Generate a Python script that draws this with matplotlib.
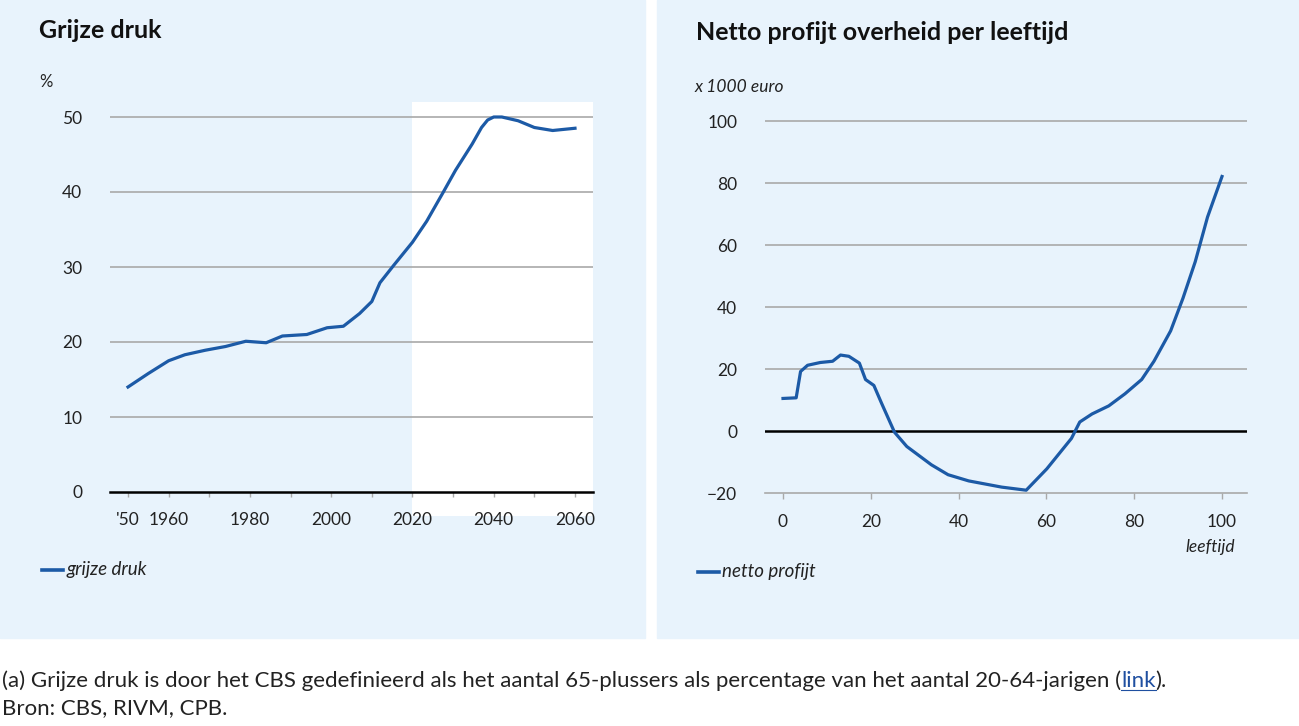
import matplotlib
matplotlib.use("Agg")
import matplotlib.pyplot as plt
from matplotlib.patches import Rectangle

# ---------------- data ----------------
years = [1950, 1955, 1960, 1964, 1969, 1974, 1979, 1984, 1988, 1994, 1999, 2003,
         2007, 2010, 2012, 2015.5, 2020, 2023.5, 2027.5, 2030.6, 2034.7, 2037,
         2038.5, 2040, 2042, 2046, 2050, 2054.5, 2060]
grijze_druk = [14.0, 15.8, 17.5, 18.3, 18.9, 19.4, 20.1, 19.9, 20.8, 21.0, 21.9, 22.1,
               23.8, 25.4, 27.9, 30.3, 33.3, 36.1, 39.9, 42.9, 46.4, 48.6,
               49.6, 50.0, 50.0, 49.5, 48.6, 48.2, 48.5]

ages = [0, 3, 4, 5.6, 8.5, 11.3, 13.1, 15, 17.4, 18.8, 20.7, 22.5, 25.4, 28.2, 33.8,
        37.6, 42.3, 49.8, 55.4, 60.1, 65.7, 67.6, 70.4, 74.2, 77.9, 81.7, 84.5,
        88.3, 91.1, 93.9, 96.7, 100]
netto_profijt = [10.5, 10.7, 19.2, 21.2, 22.1, 22.5, 24.5, 24.1, 21.9, 16.6, 14.7, 8.8,
                 -0.4, -5.0, -10.9, -14.1, -16.1, -18.1, -19.1, -12.2, -2.4, 2.9, 5.5,
                 8.1, 12.0, 16.6, 22.5, 32.3, 42.8, 54.6, 69.0, 82.1]

left_xticks = [1950, 1960, 1970, 1980, 1990, 2000, 2010, 2020, 2030, 2040, 2050, 2060]
left_xlabels = ["'50", "1960", "", "1980", "", "2000", "", "2020", "", "2040", "", "2060"]
left_yticks = [0, 10, 20, 30, 40, 50]
right_xticks = [0, 20, 40, 60, 80, 100]
right_yticks = [-20, 0, 20, 40, 60, 80, 100]

# ---------------- style ----------------
W, H = 1299, 726
BG = "#e8f3fc"
LINE = "#1c5aa6"
GRID = "#a9a9a9"
TXT = "#222222"
plt.rcParams["font.family"] = ["Lato", "DejaVu Sans"]

fig = plt.figure(figsize=(W / 100, H / 100), dpi=100)
fig.patch.set_facecolor("white")


def px_axes(x0, y0, x1, y1):
    return fig.add_axes([x0 / W, 1 - y1 / H, (x1 - x0) / W, (y1 - y0) / H])


def px_text(x, y, s, **kw):
    return fig.text(x / W, 1 - y / H, s, **kw)


# panel backgrounds
fig.patches.append(Rectangle((0, 1 - 638 / H), 645 / W, 638 / H,
                             transform=fig.transFigure, color=BG, zorder=-5))
fig.patches.append(Rectangle((657 / W, 1 - 638 / H), (W - 657) / W, 638 / H,
                             transform=fig.transFigure, color=BG, zorder=-5))

# ---------------- left chart ----------------
axL = px_axes(110, 102, 593, 516)
axL.set_facecolor("none")
xl0 = 1950 - 18 / 4.064
xl1 = 2060 + 18 / 4.064
axL.set_xlim(xl0, xl1)
axL.set_ylim(-3.2, 52)
axL.axvspan(2020, xl1, color="white", zorder=0, lw=0)
for v in left_yticks[1:]:
    axL.axhline(v, color=GRID, lw=1.2, zorder=1)
for s in ["top", "right", "left"]:
    axL.spines[s].set_visible(False)
axL.spines["bottom"].set_position(("data", 0))
axL.spines["bottom"].set_color("black")
axL.spines["bottom"].set_linewidth(1.8)
axL.spines["bottom"].set_zorder(2)
axL.plot(years, grijze_druk, color=LINE, lw=2.3, zorder=3, solid_joinstyle="round")
axL.set_xticks(left_xticks)
axL.set_xticklabels(left_xlabels)
axL.set_yticks(left_yticks)
axL.tick_params(axis="x", length=3.5, width=1, color=GRID, pad=11, labelsize=12.5,
                labelcolor=TXT)
axL.tick_params(axis="y", length=0, pad=20, labelsize=12.5, labelcolor=TXT)

px_text(39, 30, "Grijze druk", fontsize=18, fontweight="bold", va="center", ha="left",
        color="#111111")
px_text(39, 82, "%", fontsize=12, va="center", ha="left", color=TXT)
fig.lines.append(plt.Line2D([42 / W, 63 / W], [1 - 570 / H, 1 - 570 / H],
                            transform=fig.transFigure, color=LINE, lw=2.6))
px_text(67, 570, "grijze druk", fontsize=13.5, style="italic", va="center", ha="left",
        color=TXT)

# ---------------- right chart ----------------
axR = px_axes(765, 111.7, 1247, 493)
axR.set_facecolor("none")
axR.set_xlim(-18 / 4.39, 100 + 25 / 4.39)
axR.set_ylim(-20, 103)
for v in right_yticks[2:]:
    axR.axhline(v, color=GRID, lw=1.2, zorder=1)
axR.axhline(0, color="black", lw=1.8, zorder=2)
for s in ["top", "right", "left"]:
    axR.spines[s].set_visible(False)
axR.spines["bottom"].set_color(GRID)
axR.spines["bottom"].set_linewidth(1.2)
axR.plot(ages, netto_profijt, color=LINE, lw=2.3, zorder=3, solid_joinstyle="round")
axR.set_xticks(right_xticks)
axR.set_yticks(right_yticks)
axR.set_yticklabels(["\u221220" if v < 0 else str(v) for v in right_yticks])
axR.tick_params(axis="x", length=4, width=1, color=GRID, pad=11, labelsize=12.5,
                labelcolor=TXT)
axR.tick_params(axis="y", length=0, pad=20, labelsize=12.5, labelcolor=TXT)

px_text(696, 33, "Netto profijt overheid per leeftijd", fontsize=18, fontweight="bold",
        va="center", ha="left", color="#111111")
px_text(695, 87, "x 1000 euro", fontsize=12.5, style="italic", va="center", ha="left",
        color=TXT)
px_text(1210, 547, "leeftijd", fontsize=12.5, style="italic", va="center", ha="center",
        color=TXT)
fig.lines.append(plt.Line2D([698 / W, 719 / W], [1 - 572 / H, 1 - 572 / H],
                            transform=fig.transFigure, color=LINE, lw=2.6))
px_text(722, 572, "netto profijt", fontsize=13.5, style="italic", va="center", ha="left",
        color=TXT)

# ---------------- footnote ----------------
fs = 16
t1 = px_text(2, 681, "(a) Grijze druk is door het CBS gedefinieerd als het aantal 65-plussers "
             "als percentage van het aantal 20-64-jarigen (", fontsize=fs, va="center",
             ha="left", color=TXT)
px_text(2, 708, "Bron: CBS, RIVM, CPB.", fontsize=fs, va="center", ha="left", color=TXT)

fig.canvas.draw()
r = fig.canvas.get_renderer()
bb = t1.get_window_extent(r)
t2 = fig.text(bb.x1 / W, 1 - 681 / H, "link", fontsize=fs, va="center", ha="left",
              color="#1f4fa0")
bb2 = t2.get_window_extent(r)
fig.lines.append(plt.Line2D([bb2.x0 / W, bb2.x1 / W], [(bb2.y0 + 1) / H, (bb2.y0 + 1) / H],
                            transform=fig.transFigure, color="#1f4fa0", lw=0.8))
fig.text(bb2.x1 / W, 1 - 681 / H, ").", fontsize=fs, va="center", ha="left", color=TXT)

fig.savefig("out.png", dpi=100, facecolor="white")
